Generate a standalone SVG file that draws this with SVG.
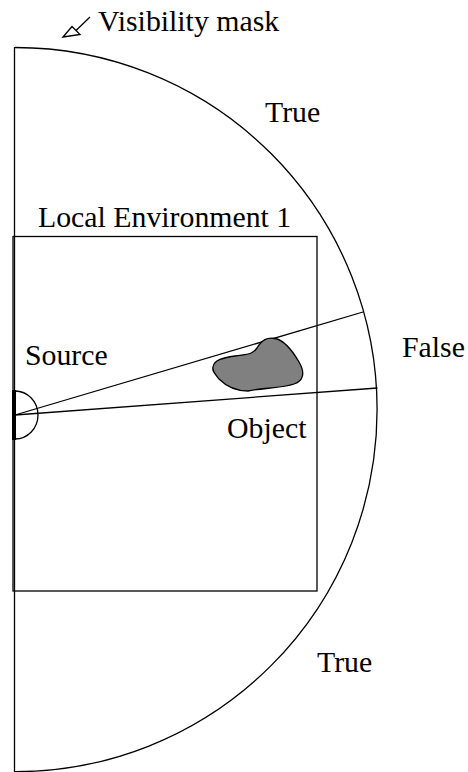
<svg xmlns="http://www.w3.org/2000/svg" width="468" height="772" viewBox="0 0 468 772">
<style>
.ln{fill:none;stroke:#000;stroke-width:1.3}
.t{font-family:"Liberation Serif","Times New Roman",serif;font-size:29.8px;fill:#000}
</style>
<rect width="468" height="772" fill="#fff"/>
<g id="mask">
<path class="ln" d="M15,47.5 A362.1,362.1 0 0 1 15,771.7"/>
<line class="ln" x1="14.5" y1="47" x2="14.5" y2="772" stroke="#333"/>
</g>
<g id="env">
<rect class="ln" x="13" y="236.5" width="304" height="354.5" stroke="#222"/>
<text class="t" x="38" y="227">Local Environment 1</text>
</g>
<g id="connectors">
<line class="ln" x1="15" y1="415" x2="363" y2="312"/>
<line class="ln" x1="15" y1="415" x2="377.5" y2="388"/>
<path class="ln" d="M90,17 L76,30.5"/>
<path class="ln" d="M63,37 L72,26.5 L80,34.5 Z"/>
</g>
<g id="source">
<path class="ln" d="M15,391 A23,24 0 0 1 15,439"/>
<rect x="12" y="390" width="4" height="50" fill="#000"/>
<text class="t" x="25" y="365">Source</text>
</g>
<g id="object">
<path d="M213,367 C214,360 222,358 235,356 C247,354 252,355 257,348 C262,340 267,337 275,338.5 C283,340 292,350 299,362 C305,372 304,381 294,384 C283,388 262,388 248,391 C235,391 226,386 219,379 C215,374 212,371 213,367 Z" fill="#808080" stroke="#000" stroke-width="1.3"/>
<text class="t" x="227" y="438">Object</text>
</g>
<g id="labels">
<text class="t" x="98" y="31">Visibility mask</text>
<text class="t" x="265" y="122">True</text>
<text class="t" x="402" y="357">False</text>
<text class="t" x="317" y="672">True</text>
</g>
</svg>
